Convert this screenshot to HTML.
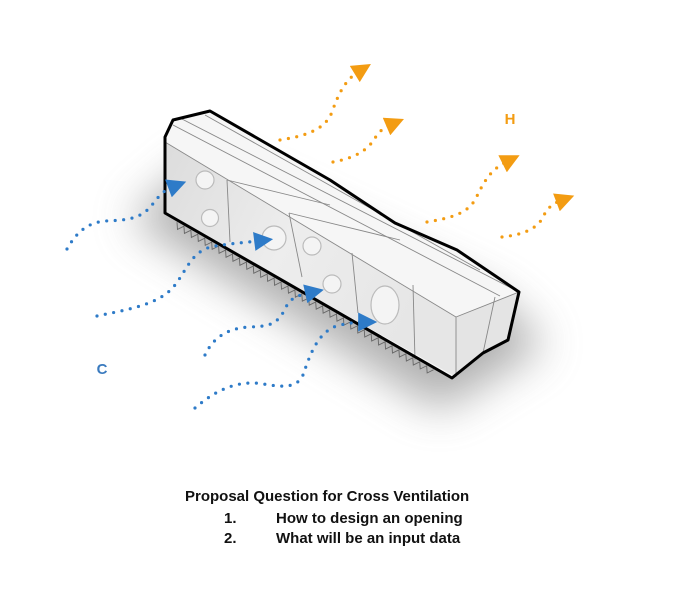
<!DOCTYPE html>
<html><head><meta charset="utf-8"><style>
html,body{margin:0;padding:0;background:#fff;width:684px;height:601px;overflow:hidden}
svg{position:absolute;left:0;top:0}
.t{position:absolute;font-family:"Liberation Sans",sans-serif;font-weight:bold;font-size:15px;color:#111;white-space:nowrap}
</style></head><body>
<svg width="684" height="601" viewBox="0 0 684 601">
<defs>
<filter id="bl" x="-50%" y="-50%" width="200%" height="200%"><feGaussianBlur stdDeviation="22"/></filter>
<linearGradient id="fg" x1="0" y1="0" x2="1" y2="0.4"><stop offset="0" stop-color="#dcdcdc"/><stop offset="0.5" stop-color="#ededed"/><stop offset="1" stop-color="#e6e6e6"/></linearGradient>
<marker id="ao" viewBox="0 0 10 10" refX="2" refY="5" markerWidth="24" markerHeight="19" markerUnits="userSpaceOnUse" orient="auto"><path d="M0,0 L10,5 L0,10 Z" fill="#f39c12"/></marker>
<marker id="ab" viewBox="0 0 10 10" refX="2" refY="5" markerWidth="24" markerHeight="19" markerUnits="userSpaceOnUse" orient="auto"><path d="M0,0 L10,5 L0,10 Z" fill="#2e7bc8"/></marker>
</defs>
<polygon points="130,220 440,410 545,345 500,300 200,160" fill="#7a7a7a" opacity="0.6" filter="url(#bl)"/>
<g transform="translate(165,213) rotate(29.9)">
<path d="M15,2 l4,6 l4,-6 l4,6 l4,-6 l4,6 l4,-6 l4,6 l4,-6 l4,6 l4,-6 l4,6 l4,-6 l4,6 l4,-6 l4,6 l4,-6 l4,6 l4,-6 l4,6 l4,-6 l4,6 l4,-6 l4,6 l4,-6 l4,6 l4,-6 l4,6 l4,-6 l4,6 l4,-6 l4,6 l4,-6 l4,6 l4,-6 l4,6 l4,-6 l4,6 l4,-6 l4,6 l4,-6 l4,6 l4,-6 l4,6 l4,-6 l4,6 l4,-6 l4,6 l4,-6 l4,6 l4,-6 l4,6 l4,-6 l4,6 l4,-6 l4,6 l4,-6 l4,6 l4,-6 l4,6 l4,-6 l4,6 l4,-6 l4,6 l4,-6 l4,6 l4,-6 l4,6 l4,-6 l4,6 l4,-6 l4,6 l4,-6 l4,6 l4,-6" fill="none" stroke="#666" stroke-width="0.9"/>
</g>
<polygon points="165,137 173,120 210,111 330,180 395,223 457,250 519,292 508,340 483,353 452,378 165,213" fill="#f6f6f6"/>
<polygon points="165,142 456,317 456,377 165,213" fill="url(#fg)"/>
<polygon points="456,317 519,292 508,340 483,353 456,377" fill="#e4e4e4"/>
<g stroke="#888" stroke-width="0.9" fill="none">
<line x1="165" y1="142" x2="456" y2="317"/>
<line x1="456" y1="317" x2="519" y2="292"/>
<line x1="456" y1="317" x2="456" y2="377"/>
<line x1="173" y1="125" x2="500" y2="296"/>
<line x1="180" y1="118" x2="519" y2="292"/>
<line x1="205" y1="115" x2="480" y2="270"/>
<line x1="227" y1="180" x2="230" y2="242"/>
<line x1="289" y1="213" x2="302" y2="277"/>
<line x1="352" y1="253" x2="358" y2="313"/>
<line x1="413" y1="285" x2="415" y2="360"/>
<line x1="483" y1="353" x2="495" y2="297"/>
<line x1="227" y1="180" x2="330" y2="205"/>
<line x1="289" y1="213" x2="400" y2="240"/>
</g>
<g fill="#f4f4f4" stroke="#bbb" stroke-width="1.2">
<circle cx="205" cy="180" r="9"/><circle cx="210" cy="218" r="8.5"/><circle cx="274" cy="238" r="12"/>
<circle cx="312" cy="246" r="9"/><circle cx="332" cy="284" r="9"/><ellipse cx="385" cy="305" rx="14" ry="19"/>
</g>
<polygon points="165,137 173,120 210,111 330,180 395,223 457,250 519,292 508,340 483,353 452,378 165,213" fill="none" stroke="#000" stroke-width="3" stroke-linejoin="round"/>
<g fill="none" stroke="#f39c12" stroke-width="3.2" stroke-linecap="round" stroke-dasharray="0 8.5">
<path d="M280,140 C305,136 325,130 332,112 C338,95 345,80 358,72" marker-end="url(#ao)"/>
<path d="M333,162 C355,158 368,150 375,138 C379,132 383,128 390,125" marker-end="url(#ao)"/>
<path d="M427,222 C450,218 468,214 476,198 C484,182 490,170 506,162" marker-end="url(#ao)"/>
<path d="M502,237 C520,235 538,230 544,215 C548,208 552,204 560,201" marker-end="url(#ao)"/>
</g>
<g fill="none" stroke="#2e7bc8" stroke-width="3.2" stroke-linecap="round" stroke-dasharray="0 8.5">
<path d="M67,249 C75,235 85,223 105,221 C125,220 140,220 152,205 C158,197 164,190 172,187" marker-end="url(#ab)"/>
<path d="M97,316 C125,310 160,305 175,285 C188,268 192,250 215,246 C235,243 250,242 258,241" marker-end="url(#ab)"/>
<path d="M205,355 C212,340 225,328 250,327 C270,326 278,325 287,305 C292,297 300,295 309,293" marker-end="url(#ab)"/>
<path d="M195,408 C210,395 230,382 255,383 C275,385 295,392 303,375 C310,355 318,330 340,325 C350,323 357,322 362,322" marker-end="url(#ab)"/>
</g>
<text x="510" y="124" font-family="Liberation Sans,sans-serif" font-weight="bold" font-size="15" fill="#f39c12" text-anchor="middle">H</text>
<text x="102" y="374" font-family="Liberation Sans,sans-serif" font-weight="bold" font-size="15" fill="#3b7bbf" text-anchor="middle">C</text>
</svg>
<div class="t" style="left:185px;top:488px">Proposal Question for Cross Ventilation</div>
<div class="t" style="left:224px;top:510px">1.</div>
<div class="t" style="left:276px;top:510px">How to design an opening</div>
<div class="t" style="left:224px;top:530px">2.</div>
<div class="t" style="left:276px;top:530px">What will be an input data</div>
</body></html>
